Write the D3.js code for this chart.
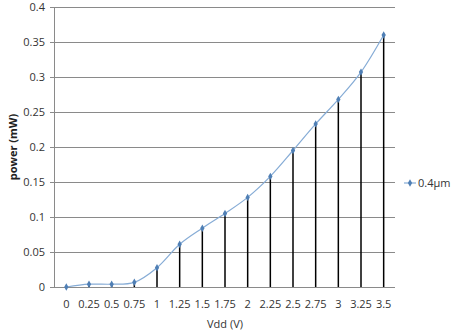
<!DOCTYPE html>
<html>
<head>
<meta charset="utf-8">
<script src="https://cdn.jsdelivr.net/npm/d3@7"></script>
<style>
  body { margin: 0; background: #fff; }
  text { font-family: "Open Sans", "DejaVu Sans", sans-serif; }
</style>
</head>
<body>
<div id="vis"></div>
<script>
// data
const vdd = ['0', '0.25', '0.5', '0.75', '1', '1.25', '1.5', '1.75', '2', '2.25', '2.5', '2.75', '3', '3.25', '3.5'];
const power = [0, 0.004, 0.004, 0.0067, 0.0276, 0.061, 0.084, 0.105, 0.128, 0.158, 0.195, 0.233, 0.268, 0.307, 0.36];
const yTicks = [0, 0.05, 0.1, 0.15, 0.2, 0.25, 0.3, 0.35, 0.4];
const seriesName = '0.4\u00b5m';

const W = 453, H = 334;
const margin = {top: 7, right: 58, bottom: 47, left: 55};
const width = W - margin.left - margin.right;
const height = H - margin.top - margin.bottom;

const svg = d3.select('#vis')
    .append('svg')
    .attr('width', W)
    .attr('height', H)
    .append('g')
    .attr('transform', `translate(${margin.left},${margin.top})`);

const xScale = d3.scaleBand()
    .domain(vdd)
    .range([0, width]);

const yScale = d3.scaleLinear()
    .domain([0, 0.4])
    .range([height, 0]);

const xc = d => xScale(d) + xScale.bandwidth() / 2;

// gridlines
svg.selectAll('.grid')
    .data(yTicks)
    .join('line')
    .attr('class', 'grid')
    .attr('x1', 0)
    .attr('x2', width)
    .attr('y1', d => yScale(d))
    .attr('y2', d => yScale(d))
    .attr('stroke', '#8a8a8a')
    .attr('stroke-width', 1)
    .attr('shape-rendering', 'crispEdges');

// y axis
const yAxis = d3.axisLeft(yScale)
    .tickValues(yTicks)
    .tickSize(5)
    .tickPadding(5)
    .tickFormat(d => d3.format('')(+d.toFixed(2)));

const gy = svg.append('g').call(yAxis);
gy.select('.domain').attr('stroke', '#8a8a8a').attr('d', `M-0.5,0V${height}`);
gy.selectAll('.tick line').attr('stroke', '#8a8a8a');
gy.selectAll('.tick text').attr('fill', '#333').style('font-size', '11px');

// x axis (labels only)
const xAxis = d3.axisBottom(xScale).tickSize(0).tickPadding(13);
const gx = svg.append('g')
    .attr('transform', `translate(0,${height})`)
    .call(xAxis);
gx.select('.domain').remove();
gx.selectAll('.tick text').attr('fill', '#333').style('font-size', '11px');

// drop lines
svg.selectAll('.drop')
    .data(vdd)
    .join('line')
    .attr('class', 'drop')
    .attr('x1', d => xc(d))
    .attr('x2', d => xc(d))
    .attr('y1', (d, i) => yScale(power[i]))
    .attr('y2', yScale(0))
    .attr('stroke', '#000')
    .attr('stroke-width', 1.5);

// smoothed series line
const line = d3.line()
    .x((d, i) => xc(vdd[i]))
    .y(d => yScale(d))
    .curve(d3.curveCatmullRom.alpha(0.5));

svg.append('path')
    .datum(power)
    .attr('d', line)
    .attr('fill', 'none')
    .attr('stroke', '#86acd6')
    .attr('stroke-width', 1.2);

// markers
const diamond = d3.symbol().type(d3.symbolDiamond).size(16);
svg.selectAll('.pt')
    .data(power)
    .join('path')
    .attr('class', 'pt')
    .attr('d', diamond)
    .attr('transform', (d, i) => `translate(${xc(vdd[i])},${yScale(d)})`)
    .attr('fill', '#4f7fb5');

// axis titles
svg.append('text')
    .attr('x', width / 2)
    .attr('y', height + 41)
    .attr('text-anchor', 'middle')
    .style('font-size', '11px')
    .attr('fill', '#333')
    .text('Vdd (V)');

svg.append('text')
    .attr('transform', 'rotate(-90)')
    .attr('x', -height / 2)
    .attr('y', -38)
    .attr('text-anchor', 'middle')
    .style('font-size', '11px')
    .style('font-weight', 'bold')
    .attr('fill', '#222')
    .text('power (mW)');

// legend
const lg = svg.append('g').attr('transform', `translate(${width + 9},${yScale(0.2) + 36})`);
lg.append('line')
    .attr('x1', 0).attr('x2', 12)
    .attr('stroke', '#86acd6').attr('stroke-width', 1.2);
lg.append('path')
    .attr('d', diamond)
    .attr('transform', 'translate(6,0)')
    .attr('fill', '#4f7fb5');
lg.append('text')
    .attr('x', 14)
    .attr('dy', '0.35em')
    .style('font-size', '11px')
    .attr('fill', '#333')
    .text(seriesName);
</script>
</body>
</html>
